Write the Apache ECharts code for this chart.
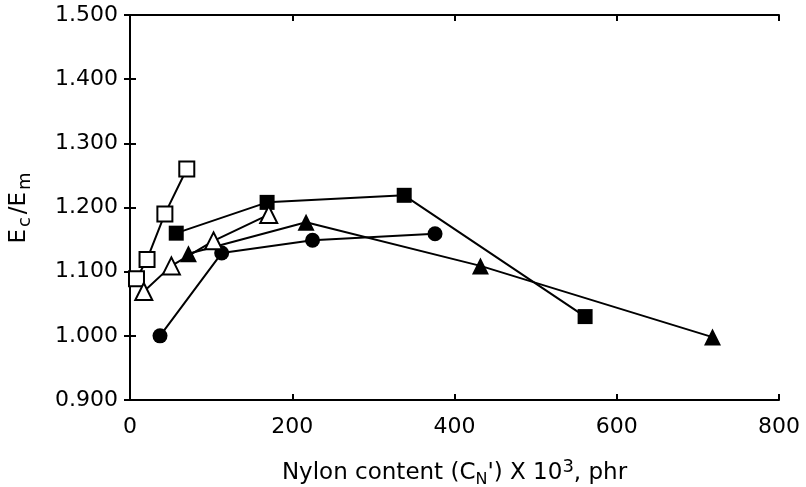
<!DOCTYPE html>
<html>
<head>
<meta charset="utf-8">
<script src="https://cdn.jsdelivr.net/npm/echarts@6/dist/echarts.min.js"></script>
<style>
  html, body { margin: 0; padding: 0; background: #fff; }
  #chart { width: 806px; height: 487px; }
</style>
</head>
<body>
<div id="chart"></div>
<script>
// values: [nylon content x 10^3 (phr), Ec/Em]
const openSquares = [[8, 1.089], [21, 1.119], [43, 1.19], [70, 1.26]];
const openTriangles = [[17, 1.069], [51, 1.109], [103, 1.148], [171, 1.189]];
const filledSquares = [[57, 1.16], [169, 1.208], [338, 1.219], [561, 1.03]];
const filledTriangles = [[72, 1.128], [217, 1.177], [432, 1.109], [718, 0.998]];
const filledCircles = [[37, 1.0], [113, 1.129], [225, 1.149], [376, 1.159]];

const xTicks = [0, 200, 400, 600, 800];
const yTicks = [0.9, 1.0, 1.1, 1.2, 1.3, 1.4, 1.5];

const FONT = 'DejaVu Sans';
const INK = '#000';

const nameRich = {
  a: { fontFamily: FONT, fontSize: 23, color: INK, lineHeight: 30, verticalAlign: 'middle' },
  sub: { fontFamily: FONT, fontSize: 16, color: INK, lineHeight: 16, verticalAlign: 'bottom' },
  sup: { fontFamily: FONT, fontSize: 18, color: INK, lineHeight: 18, verticalAlign: 'top' },
};

const yNameRich = {
  a: { fontFamily: FONT, fontSize: 23, color: INK, lineHeight: 30, verticalAlign: 'middle', padding: [0, 1, 0, 1] },
  sub: { fontFamily: FONT, fontSize: 18, color: INK, lineHeight: 18, verticalAlign: 'bottom', padding: [0, 2, 0, 1] },
};

const makeSeries = (name, data, symbol, filled) => ({
  name,
  type: 'line',
  data,
  symbol,
  symbolSize: symbol === 'triangle' ? 17 : 15,
  lineStyle: { color: INK, width: 2 },
  itemStyle: {
    color: filled ? INK : '#fff',
    borderColor: INK,
    borderWidth: filled ? 0 : 2,
  },
  z: filled ? 3 : 4,
  animation: false,
});

const commonAxis = {
  axisLine: { show: true, lineStyle: { color: INK, width: 2 } },
  axisTick: { show: true, inside: true, length: 6, lineStyle: { color: INK, width: 2 } },
  splitLine: { show: false },
};

const option = {
  backgroundColor: '#fff',
  animation: false,
  grid: { left: 130, right: 27, top: 15, bottom: 87, outerBoundsMode: 'none' },
  xAxis: [
    {
      ...commonAxis,
      type: 'value',
      min: xTicks[0],
      max: xTicks[xTicks.length - 1],
      interval: 200,
      axisLabel: { fontFamily: FONT, fontSize: 22, color: INK, margin: 16 },
      name: '{a|Nylon content (C}{sub|N}{a|\') X 10}{sup|3}{a|, phr}',
      nameLocation: 'middle',
      nameGap: 58,
      nameTextStyle: { rich: nameRich },
    },
    {
      ...commonAxis,
      type: 'value',
      position: 'top',
      min: xTicks[0],
      max: xTicks[xTicks.length - 1],
      interval: 200,
      axisLabel: { show: false },
    },
  ],
  yAxis: [
    {
      ...commonAxis,
      type: 'value',
      min: yTicks[0],
      max: yTicks[yTicks.length - 1],
      interval: 0.1,
      axisLabel: {
        fontFamily: FONT, fontSize: 22, color: INK, margin: 12,
        formatter: v => v.toFixed(3),
      },
      name: '{a|E}{sub|c}{a|/E}{sub|m}',
      nameLocation: 'middle',
      nameGap: 96,
      nameTextStyle: { rich: yNameRich },
    },
    {
      ...commonAxis,
      type: 'value',
      position: 'right',
      min: yTicks[0],
      max: yTicks[yTicks.length - 1],
      interval: 0.1,
      axisLabel: { show: false },
    },
  ],
  series: [
    makeSeries('open squares', openSquares, 'rect', false),
    makeSeries('open triangles', openTriangles, 'triangle', false),
    makeSeries('filled squares', filledSquares, 'rect', true),
    makeSeries('filled triangles', filledTriangles, 'triangle', true),
    makeSeries('filled circles', filledCircles, 'circle', true),
  ],
};

const chart = echarts.init(document.getElementById('chart'));
chart.setOption(option);
</script>
</body>
</html>
